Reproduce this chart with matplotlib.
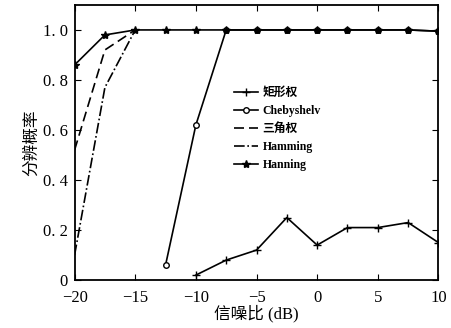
import matplotlib
matplotlib.use('Agg')
import matplotlib.pyplot as plt

plt.rcParams['font.family'] = ['Liberation Serif', 'Noto Sans CJK SC']

# SNR (dB) and resolution probability per window
snr_rect = [-10, -7.5, -5, -2.5, 0, 2.5, 5, 7.5, 10]
p_rect = [0.02, 0.08, 0.12, 0.25, 0.14, 0.21, 0.21, 0.23, 0.15]

snr_cheb = [-12.5, -10, -7.5, -5, -2.5, 0, 2.5, 5, 7.5, 10]
p_cheb = [0.06, 0.62, 1.0, 1.0, 1.0, 1.0, 1.0, 1.0, 1.0, 0.995]

snr_tri = [-20, -17.5, -15]
p_tri = [0.52, 0.92, 1.0]

snr_hamm = [-20, -17.5, -15]
p_hamm = [0.1, 0.77, 1.0]

snr_hann = [-20, -17.5, -15, -12.5, -10, -7.5, -5, -2.5, 0, 2.5, 5, 7.5, 10]
p_hann = [0.86, 0.98, 1.0, 1.0, 1.0, 1.0, 1.0, 1.0, 1.0, 1.0, 1.0, 1.0, 0.995]

labels = ['矩形权', 'Chebyshelv', '三角权', 'Hamming', 'Hanning']

fig = plt.figure(figsize=(4.52, 3.28), dpi=100)
ax = fig.add_axes([0.165, 0.146, 0.805, 0.839])

ax.plot(snr_rect, p_rect, 'k-', marker='+', ms=6, lw=1.2, label=labels[0])
ax.plot(snr_cheb, p_cheb, 'k-', marker='o', ms=4, mfc='white', lw=1.2, label=labels[1])
ax.plot(snr_tri, p_tri, 'k--', lw=1.2, dashes=(6, 3), label=labels[2])
ax.plot(snr_hamm, p_hamm, 'k-.', lw=1.2, label=labels[3])
ax.plot(snr_hann, p_hann, 'k-', marker='*', ms=6, lw=1.2, label=labels[4])

ax.set_xlim(-20, 10)
ax.set_ylim(0, 1.1)
ax.set_xticks([-20, -15, -10, -5, 0, 5, 10])
ax.set_xticklabels(['\u221220', '\u221215', '\u221210', '\u22125', '0', '5', '10'])
ax.set_yticks([0, 0.2, 0.4, 0.6, 0.8, 1.0])
ax.set_yticklabels(['0', '0. 2', '0. 4', '0. 6', '0. 8', '1. 0'])
ax.tick_params(direction='in', top=True, right=True, labelsize=12, length=4)
ax.tick_params(axis='x', pad=7)
ax.tick_params(axis='y', pad=5)
for s in ax.spines.values():
    s.set_linewidth(1.3)

ax.set_xlabel('信噪比 (dB)', fontsize=12, labelpad=-1)
ax.set_ylabel('分辨概率', fontsize=12, labelpad=2)

leg = ax.legend(loc='upper left', bbox_to_anchor=(0.41, 0.74), frameon=False,
                prop={'size': 8.5, 'weight': 'bold'}, handlelength=2.0,
                labelspacing=0.5, handletextpad=0.4)

fig.savefig('out.png', dpi=100)
